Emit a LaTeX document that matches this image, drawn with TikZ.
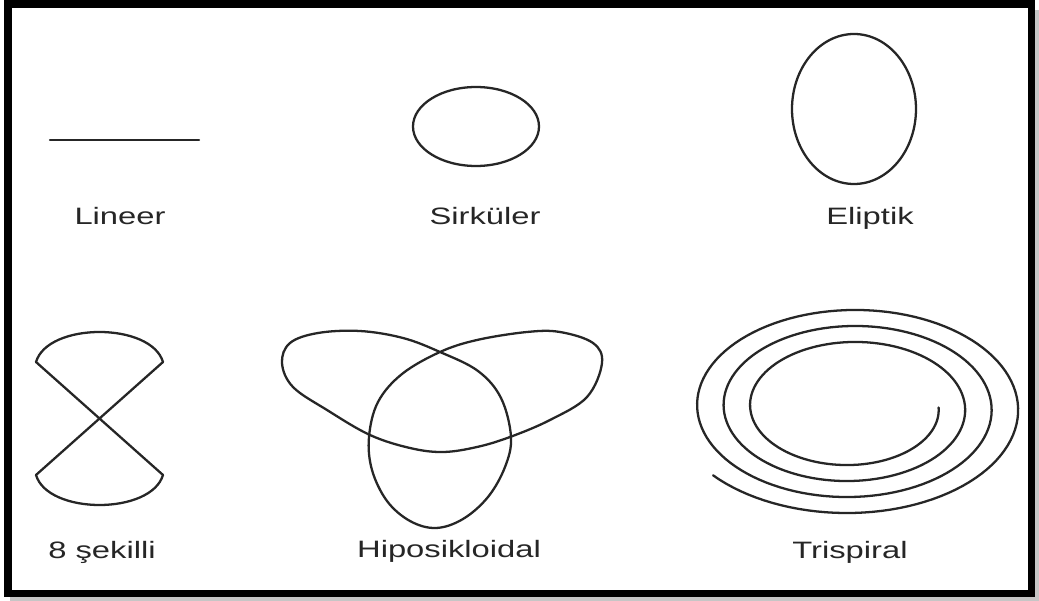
\documentclass[tikz,border=0pt]{standalone}
\usepackage{fontspec}
\setmainfont{Liberation Sans}

\begin{document}
\begin{tikzpicture}[
    x=0.02cm, y=-0.02cm,
    curve/.style={draw=black!85, line width=1.3pt, line join=round, line cap=round},
    figtext/.style={anchor=base, xscale=1.38, text=black!85,
        font=\fontsize{13.5}{16}\selectfont}
]
  \useasboundingbox (0,0) rectangle (1039,601);

  % Frame with shadow
  \fill[gray!45] (10,10) rectangle (1039,601);
  \fill[white] (8,4) rectangle (1031.5,593.5);
  \draw[line width=4.5pt] (8,4) rectangle (1031.5,593.5);

  % Lineer
  \draw[curve] (50,140) -- (199,140);
  \node[figtext] (lineer) at (120,225) {Lineer};

  % Sirkuler
  \draw[curve] (476,126.5) ellipse [x radius=63, y radius=39.5];
  \node[figtext] (sirkuler) at (485,225) {Sirküler};

  % Eliptik
  \draw[curve] (854,109) ellipse [x radius=62, y radius=75];
  \node[figtext] (eliptik) at (870,225) {Eliptik};

  % 8 sekilli
  \draw[curve] (36,362) -- (163,475) .. controls (151,515) and (48,515) .. (36,475)
      -- (163,362) .. controls (151,322) and (48,322) .. (36,362) -- cycle;
  \node[figtext] (sekilli) at (102,559) {8 şekilli};

  % Hiposikloidal
  \draw[curve] plot[smooth cycle, tension=0.6] coordinates {
      (440,352) (403,338) (360,331) (318,333) (290,343) (282,363) (293,387)
      (327,410) (370,435) (410,448) (443,452) (477,447) (510,437) (550,420)
      (587,397) (602,363) (593,343) (560,332) (527,332) (477,340) (440,352)
      (402,374) (378,402) (369,437) (372,470) (387,501) (410,521) (436,528)
      (463,519) (488,497) (505,467) (511,437) (501,398) (478,371)};
  \node[figtext] (hiposikloidal) at (449,558) {Hiposikloidal};

  % Trispiral
  \draw[curve] plot[domain=0:1221, samples=400, variable=\t]
      ({851+(87.6+13.25*\t/180)*cos(\t)}, {407.5+(53.5+8*\t/180)*sin(\t)});
  \node[figtext] (trispiral) at (850,559) {Trispiral};
\end{tikzpicture}
\end{document}
